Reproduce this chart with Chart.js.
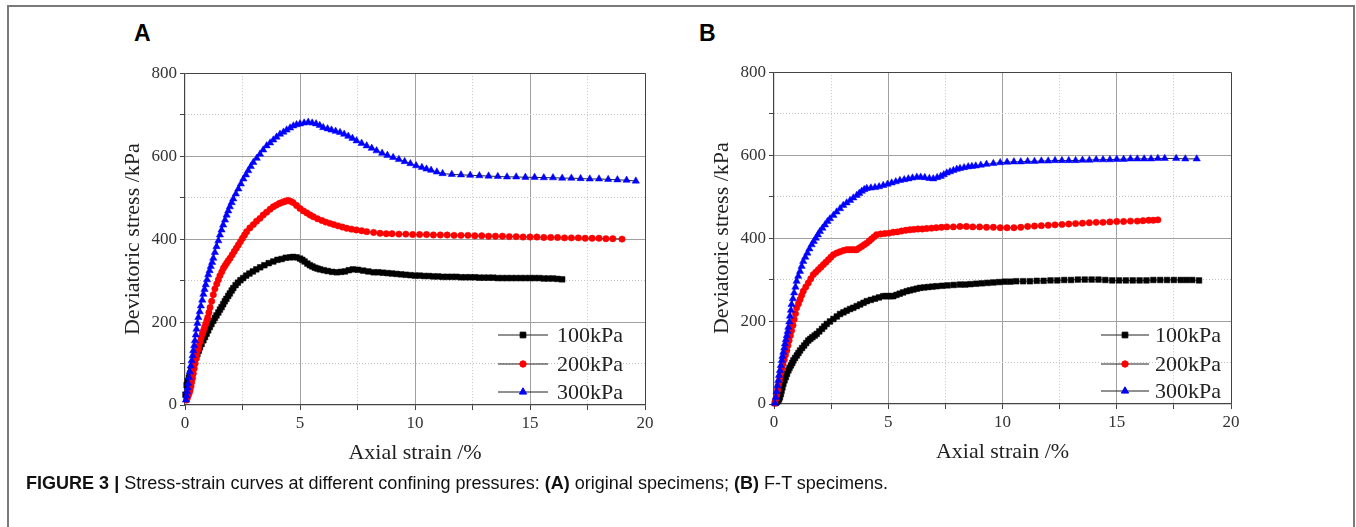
<!DOCTYPE html>
<html>
<head>
<meta charset="utf-8">
<script src="https://cdn.jsdelivr.net/npm/chart.js@4.4.1/dist/chart.umd.min.js"></script>
<style>
  body { margin: 0; background: #fff; width: 1356px; height: 527px; overflow: hidden; position: relative; }
  #frame { position: absolute; left: 7px; top: 5px; width: 1344px; height: 540px; border: 2px solid #7a7a7a; border-bottom: none; }
  .panel { position: absolute; }
  .tag { position: absolute; font: bold 23px "Liberation Sans", Arial, sans-serif; color: #000; }
  #caption { position: absolute; left: 26px; top: 473px; font-family: "Liberation Sans Narrow", "Arial Narrow", "Liberation Sans", sans-serif;
             font-size: 17.5px; white-space: nowrap; transform-origin: 0 0; color: #111; }
</style>
</head>
<body>
<div id="frame"></div>
<div class="tag" style="left:134px;top:20px">A</div>
<div class="tag" style="left:699px;top:20px">B</div>
<canvas id="chartA" class="panel" width="560" height="420" style="left:100px;top:60px"></canvas>
<canvas id="chartB" class="panel" width="560" height="420" style="left:689px;top:59px"></canvas>
<div id="caption"><b>FIGURE 3 |</b> Stress-strain curves at different confining pressures: <b>(A)</b> original specimens; <b>(B)</b> F-T specimens.</div>

<script>
const seriesLabels = ["100kPa", "200kPa", "300kPa"];
const xTicks = [0, 5, 10, 15, 20];
const yTicks = [0, 200, 400, 600, 800];

// (A) original specimens
const strainA100 = [0.02,0.07,0.12,0.17,0.22,0.27,0.32,0.38,0.43,0.49,
  0.54,0.6,0.65,0.72,0.8,0.87,0.94,1.01,1.08,1.15,
  1.23,1.3,1.37,1.45,1.52,1.59,1.66,1.73,1.8,1.88,
  1.95,2.03,2.1,2.2,2.3,2.41,2.53,2.66,2.8,2.95,
  3.1,3.27,3.45,3.64,3.84,4.02,4.2,4.38,4.57,4.7,
  4.85,5.0,5.1,5.2,5.32,5.43,5.54,5.65,5.76,5.87,
  6.03,6.2,6.4,6.6,6.78,6.95,7.12,7.3,7.52,7.75,
  7.97,8.2,8.4,8.6,8.8,9.0,9.2,9.4,9.6,9.8,
  10.0,10.2,10.4,10.6,10.8,11.0,11.2,11.4,11.6,11.8,
  12.0,12.2,12.4,12.6,12.8,13.0,13.2,13.4,13.6,13.8,
  14.0,14.2,14.4,14.6,14.8,15.0,15.2,15.4,15.6,15.8,
  16.0,16.2,16.4];
const stressA100 = [25,48,58,66,76,84,92,100,107,115,
  123,131,139,147,156,164,172,180,188,195,
  203,210,216,223,230,236,243,250,256,263,
  269,276,282,289,295,301,306,312,317,322,
  327,332,337,342,346,350,352,355,356,357,
  356,353,350,346,341,337,334,331,329,327,
  325,323,321,320,321,322,325,327,326,324,
  322,320,320,319,318,317,316,315,314,313,
  312,312,311,311,310,310,309,309,309,309,
  308,308,308,308,307,307,307,307,306,306,
  306,306,306,306,306,306,306,306,305,305,
  305,304,303];

const strainA200 = [0.07,0.11,0.15,0.19,0.22,0.26,0.29,0.33,0.36,0.4,
  0.44,0.48,0.51,0.56,0.6,0.65,0.7,0.75,0.8,0.85,
  0.9,0.95,0.99,1.04,1.09,1.16,1.23,1.3,1.38,1.45,
  1.52,1.6,1.67,1.74,1.81,1.88,1.96,2.05,2.14,2.23,
  2.32,2.41,2.5,2.59,2.68,2.82,2.97,3.11,3.26,3.4,
  3.55,3.7,3.84,3.97,4.1,4.2,4.3,4.4,4.49,4.6,
  4.7,4.85,5.0,5.15,5.3,5.44,5.58,5.76,5.95,6.12,
  6.3,6.47,6.65,6.84,7.03,7.24,7.45,7.68,7.9,8.2,
  8.48,8.75,9.0,9.3,9.6,9.9,10.2,10.5,10.8,11.1,
  11.4,11.7,12.0,12.3,12.6,12.9,13.2,13.5,13.8,14.1,
  14.4,14.7,15.0,15.3,15.6,15.9,16.2,16.5,16.8,17.1,
  17.4,17.7,18.0,18.3,18.6,19.0];
const stressA200 = [12,18,24,30,36,45,55,65,76,88,
  100,112,123,133,142,152,162,171,179,187,
  195,203,211,223,235,250,266,280,292,302,
  312,321,330,336,342,348,354,362,370,378,
  386,394,402,410,418,427,435,443,450,458,
  465,472,478,482,486,488,490,492,493,491,
  488,481,474,468,463,458,454,449,445,441,
  438,435,432,429,426,424,422,420,418,416,
  414,413,413,412,412,411,411,411,410,410,
  410,409,409,409,408,408,407,407,407,406,
  406,405,405,405,404,404,404,403,403,403,
  402,402,402,401,401,400];

const strainA300 = [0.04,0.07,0.09,0.12,0.14,0.18,0.21,0.25,0.29,0.33,
  0.36,0.4,0.43,0.47,0.5,0.54,0.58,0.64,0.69,0.75,
  0.8,0.85,0.9,0.96,1.01,1.07,1.12,1.18,1.23,1.3,
  1.37,1.45,1.52,1.59,1.66,1.74,1.81,1.88,1.95,2.03,
  2.1,2.21,2.32,2.43,2.54,2.65,2.75,2.86,2.97,3.12,
  3.26,3.4,3.55,3.7,3.84,3.98,4.13,4.28,4.42,4.57,
  4.71,4.85,5.0,5.18,5.36,5.53,5.7,5.86,6.01,6.2,
  6.37,6.55,6.74,6.92,7.1,7.28,7.46,7.68,7.9,8.12,
  8.33,8.57,8.8,9.05,9.3,9.55,9.8,10.05,10.3,10.5,
  10.7,10.95,11.2,11.6,12.0,12.4,12.8,13.2,13.6,14.0,
  14.4,14.8,15.2,15.6,16.0,16.4,16.8,17.2,17.6,18.0,
  18.4,18.8,19.2,19.6];
const stressA300 = [12,22,32,42,52,66,80,94,107,119,
  131,143,155,169,183,197,211,225,239,253,
  267,279,290,302,314,324,334,344,354,368,
  382,396,410,422,434,446,458,468,478,488,
  497,509,521,533,545,555,565,575,585,595,
  605,615,625,632,639,646,653,658,663,668,
  673,676,678,680,682,680,678,674,669,666,
  663,660,657,653,648,643,637,631,625,619,
  613,607,602,597,592,587,582,577,573,569,
  566,562,558,556,555,554,553,552,551,550,
  550,549,549,548,548,547,547,546,545,545,
  544,543,542,540];

// (B) F-T specimens
const strainB100 = [0.04,0.08,0.12,0.16,0.2,0.23,0.26,0.3,0.33,0.37,
  0.41,0.46,0.52,0.57,0.63,0.68,0.74,0.8,0.85,0.92,
  1.0,1.07,1.14,1.23,1.32,1.41,1.5,1.59,1.68,1.78,
  1.87,1.98,2.1,2.2,2.31,2.45,2.6,2.75,2.89,3.04,
  3.18,3.33,3.47,3.62,3.77,3.92,4.06,4.24,4.42,4.6,
  4.78,4.9,5.0,5.11,5.22,5.36,5.5,5.65,5.81,5.95,
  6.1,6.25,6.39,6.57,6.75,6.93,7.12,7.36,7.6,7.87,
  8.14,8.37,8.6,8.85,9.1,9.35,9.6,9.85,10.1,10.35,
  10.6,10.9,11.2,11.5,11.8,12.1,12.4,12.7,13.0,13.3,
  13.6,13.9,14.2,14.5,14.8,15.1,15.4,15.7,16.0,16.3,
  16.6,16.9,17.2,17.5,17.8,18.05,18.3,18.6];
const stressB100 = [2,3,5,7,10,13,17,24,32,40,
  49,57,65,73,81,87,93,99,105,111,
  117,123,129,135,141,147,153,157,161,165,
  169,175,181,187,193,199,205,211,217,221,
  225,229,232,236,240,244,248,251,254,257,
  260,260,260,260,260,263,266,269,272,274,
  276,278,280,281,282,283,284,285,286,287,
  288,288,289,290,291,292,293,294,295,295,
  296,296,296,297,297,298,298,299,299,300,
  300,300,300,299,298,298,298,298,298,298,
  299,299,299,299,299,299,299,298];

const strainB200 = [0.04,0.08,0.12,0.16,0.19,0.23,0.26,0.3,0.34,0.39,
  0.45,0.5,0.56,0.61,0.66,0.72,0.77,0.83,0.88,0.94,
  0.99,1.07,1.14,1.21,1.28,1.39,1.5,1.61,1.72,1.83,
  1.94,2.05,2.16,2.27,2.38,2.49,2.6,2.75,2.89,3.04,
  3.18,3.29,3.4,3.51,3.62,3.73,3.84,3.95,4.06,4.17,
  4.27,4.38,4.49,4.67,4.85,5.04,5.22,5.4,5.58,5.77,
  5.95,6.12,6.3,6.49,6.68,6.89,7.1,7.33,7.56,7.85,
  8.14,8.42,8.7,9.0,9.3,9.6,9.9,10.2,10.5,10.8,
  11.1,11.4,11.7,12.0,12.3,12.6,12.9,13.2,13.5,13.8,
  14.1,14.4,14.7,15.0,15.3,15.6,15.9,16.15,16.4,16.6,
  16.8];
const stressB200 = [2,12,22,34,45,55,65,75,85,96,
  107,118,129,141,153,165,177,190,204,218,
  232,242,252,262,272,282,292,302,312,318,
  324,330,336,342,348,354,360,364,367,370,
  372,372,372,372,372,376,380,384,388,393,
  398,403,408,410,411,412,414,415,417,419,
  420,421,422,422,423,424,425,426,427,427,
  428,428,427,427,426,426,425,425,425,426,
  428,429,430,431,432,433,434,435,436,437,
  438,438,439,440,440,441,441,442,443,443,
  444];

const strainB300 = [0.04,0.08,0.11,0.15,0.19,0.22,0.26,0.3,0.34,0.37,
  0.41,0.45,0.48,0.52,0.56,0.6,0.63,0.67,0.7,0.74,
  0.77,0.83,0.88,0.94,0.99,1.06,1.14,1.21,1.28,1.37,
  1.46,1.55,1.65,1.74,1.83,1.92,2.01,2.12,2.23,2.34,
  2.45,2.6,2.74,2.89,3.03,3.18,3.33,3.47,3.62,3.73,
  3.84,3.95,4.06,4.24,4.42,4.6,4.78,4.97,5.15,5.33,
  5.51,5.7,5.88,6.06,6.25,6.42,6.6,6.8,6.97,7.14,
  7.3,7.43,7.56,7.7,7.85,8.0,8.14,8.32,8.5,8.66,
  8.83,9.05,9.3,9.6,9.9,10.2,10.5,10.8,11.1,11.4,
  11.7,12.0,12.3,12.6,12.9,13.2,13.5,13.8,14.1,14.4,
  14.7,15.0,15.3,15.6,15.9,16.2,16.5,16.8,17.1,17.6,
  18.0,18.5];
const stressB300 = [2,16,30,44,57,69,81,93,105,115,
  125,135,145,155,165,175,185,198,212,226,
  240,254,268,282,296,308,320,332,344,354,
  364,374,384,392,400,408,416,424,432,440,
  447,455,463,471,479,485,491,497,503,508,
  513,517,520,521,522,524,527,530,533,536,
  539,541,543,545,547,547,546,544,543,546,
  549,553,557,560,563,566,568,570,572,573,
  574,576,578,580,582,583,584,584,585,585,
  586,586,587,587,587,587,588,588,589,589,
  589,590,590,591,591,591,591,592,592,592,
  591,591];

const markerColors = ["#000000", "#ff0000", "#0000ff"];
const markerStyles = ["rect", "circle", "triangle"];
const markerSizes = [4, 3.2, 4.2];

function toPoints(xs, ys) {
  return xs.map((x, i) => ({ x: x, y: ys[i] }));
}

function makeDatasets(pairs) {
  return pairs.map((p, i) => ({
    label: seriesLabels[i],
    data: toPoints(p[0], p[1]),
    borderColor: "#222",
    borderWidth: 1,
    pointStyle: markerStyles[i],
    pointRadius: markerSizes[i],
    pointBackgroundColor: markerColors[i],
    pointBorderColor: markerColors[i],
    pointBorderWidth: 0.5,
    clip: false,
    order: 3 - i
  }));
}

const serif = "'Liberation Serif', 'Times New Roman', serif";

// legend drawn inside the plot, Origin style: line with marker, then label
const insideLegend = {
  id: "insideLegend",
  afterDraw(chart, args, opts) {
    const ctx = chart.ctx;
    const area = chart.chartArea;
    ctx.save();
    chart.data.datasets.forEach((ds, i) => {
      const y = area.bottom + opts.rows[i];
      const x0 = area.right + opts.lineStart;
      const x1 = area.right + opts.lineEnd;
      ctx.strokeStyle = "#222";
      ctx.lineWidth = 1;
      ctx.beginPath();
      ctx.moveTo(x0, y);
      ctx.lineTo(x1, y);
      ctx.stroke();
      ctx.fillStyle = ds.pointBackgroundColor;
      ctx.strokeStyle = ds.pointBorderColor;
      Chart.helpers.drawPoint(ctx, { pointStyle: ds.pointStyle, radius: ds.pointRadius, rotation: 0, borderWidth: 0.5 }, (x0 + x1) / 2, y);
      ctx.fillStyle = "#222";
      ctx.font = "22px " + serif;
      ctx.textBaseline = "middle";
      ctx.textAlign = "left";
      ctx.fillText(ds.label, area.right + opts.textStart, y + 1);
    });
    ctx.restore();
  }
};

function buildChart(id, pairs, legendOpts, rightPad) {
  const major = (v, step) => Math.abs(v / step - Math.round(v / step)) < 1e-6;
  new Chart(document.getElementById(id), {
    type: "line",
    data: { datasets: makeDatasets(pairs) },
    plugins: [insideLegend],
    options: {
      responsive: false,
      animation: false,
      devicePixelRatio: 1,
      layout: { padding: { left: 0, top: 10, right: rightPad, bottom: 0 } },
      plugins: { legend: { display: false }, tooltip: { enabled: false }, insideLegend: legendOpts },
      scales: {
        x: {
          type: "linear", min: 0, max: 20,
          afterFit: s => { s.height = 75; },
          afterBuildTicks: s => { s.ticks = [0, 2.5, 5, 7.5, 10, 12.5, 15, 17.5, 20].map(v => ({ value: v })); },
          ticks: {
            autoSkip: false, maxRotation: 0, padding: 3, color: "#333",
            font: { family: serif, size: 17 },
            callback: v => xTicks.includes(v) ? String(v) : ""
          },
          grid: {
            tickLength: 5, tickColor: "#444", lineWidth: 1,
            color: c => c.tick.value === 20 ? "#444" : (major(c.tick.value, 5) && c.tick.value > 0 ? "#a0a0a0" : "rgba(0,0,0,0)")
          },
          border: { color: "#444", width: 1.2 },
          title: { display: true, text: "Axial strain /%", color: "#222", font: { family: serif, size: 22 }, padding: { top: 0, bottom: 14 } }
        },
        xm: {
          type: "linear", position: "bottom", min: 0, max: 20,
          afterBuildTicks: s => { s.ticks = [2.5, 7.5, 12.5, 17.5].map(v => ({ value: v })); },
          ticks: { display: false },
          grid: { drawTicks: false, color: "#c4c4c4", lineWidth: 1 },
          border: { display: false, dash: [1, 2] }
        },
        y: {
          type: "linear", min: 0, max: 800,
          afterFit: s => { s.width = 85; },
          afterBuildTicks: s => { s.ticks = [0, 100, 200, 300, 400, 500, 600, 700, 800].map(v => ({ value: v })); },
          ticks: {
            autoSkip: false, padding: 3, color: "#333",
            font: { family: serif, size: 17 },
            callback: v => yTicks.includes(v) ? String(v) : ""
          },
          grid: {
            tickLength: 5, tickColor: "#444", lineWidth: 1,
            color: c => c.tick.value === 800 ? "#444" : (major(c.tick.value, 200) && c.tick.value > 0 ? "#a0a0a0" : "rgba(0,0,0,0)")
          },
          border: { color: "#444", width: 1.2 },
          title: { display: true, text: "Deviatoric stress /kPa", color: "#222", font: { family: serif, size: 22 }, padding: { top: 20, bottom: 0 } }
        },
        ym: {
          type: "linear", position: "left", min: 0, max: 800,
          afterBuildTicks: s => { s.ticks = [100, 300, 500, 700].map(v => ({ value: v })); },
          ticks: { display: false },
          grid: { drawTicks: false, color: "#c4c4c4", lineWidth: 1 },
          border: { display: false, dash: [1, 2] }
        }
      }
    }
  });
}

buildChart("chartA",
  [[strainA100, stressA100], [strainA200, stressA200], [strainA300, stressA300]],
  { rows: [-70, -41, -13], lineStart: -147, lineEnd: -97, textStart: -88 }, 15);

buildChart("chartB",
  [[strainB100, stressB100], [strainB200, stressB200], [strainB300, stressB300]],
  { rows: [-69, -40, -13], lineStart: -130, lineEnd: -82, textStart: -76 }, 18);

// squeeze the caption to the width it has in the figure
const cap = document.getElementById("caption");
const w = cap.getBoundingClientRect().width;
cap.style.transform = "scaleX(" + (862 / w) + ")";
</script>
</body>
</html>
